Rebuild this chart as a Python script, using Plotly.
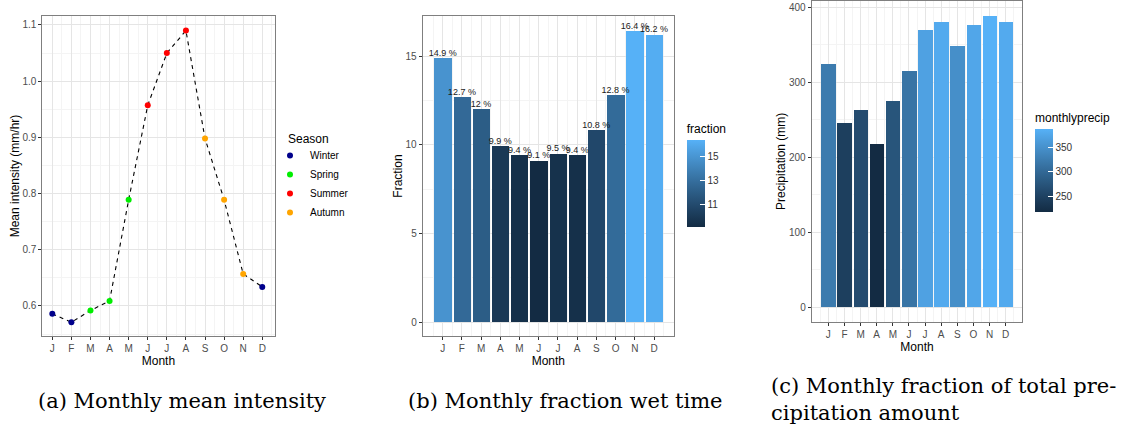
import numpy as np
import plotly.graph_objects as go

# ---- data -------------------------------------------------------------
months = ["J", "F", "M", "A", "M", "J", "J", "A", "S", "O", "N", "D"]
seasons = ["Winter", "Winter", "Spring", "Spring", "Spring", "Summer",
           "Summer", "Summer", "Autumn", "Autumn", "Autumn", "Winter"]
season_order = ["Winter", "Spring", "Summer", "Autumn"]
season_colors = ["#00008B", "#00EE00", "#FF0000", "#FFA500"]

mean_intensity = [0.586, 0.571, 0.592, 0.609, 0.789, 0.957,
                  1.050, 1.090, 0.898, 0.789, 0.657, 0.634]
wet_fraction = [14.9, 12.7, 12.0, 9.9, 9.4, 9.1, 9.5, 9.4, 10.8, 12.8, 16.4, 16.2]
monthly_precip = [324, 246, 263, 218, 275, 315, 370, 380, 348, 376, 388, 380]

captions = ["(a) Monthly mean intensity",
            "(b) Monthly fraction wet time",
            "(c) Monthly fraction of total pre-<br>cipitation amount"]

x_idx = list(range(len(months)))


# ---- ggplot-like continuous fill scale (interpolated in CIE Lab) ------
def _hex_to_lab(h):
    rgb = np.array([int(h[i:i + 2], 16) / 255 for i in (1, 3, 5)])
    lin = np.where(rgb <= 0.04045, rgb / 12.92, ((rgb + 0.055) / 1.055) ** 2.4)
    m = np.array([[0.4124, 0.3576, 0.1805],
                  [0.2126, 0.7152, 0.0722],
                  [0.0193, 0.1192, 0.9505]])
    xyz = m @ lin / np.array([0.95047, 1.0, 1.08883])
    d = 6 / 29
    f = np.where(xyz > d ** 3, np.cbrt(xyz), xyz / (3 * d * d) + 4 / 29)
    return np.array([116 * f[1] - 16, 500 * (f[0] - f[1]), 200 * (f[1] - f[2])])


def _lab_to_hex(lab):
    L, a, b = lab
    fy = (L + 16) / 116
    fx = fy + a / 500
    fz = fy - b / 200
    d = 6 / 29
    f = np.array([fx, fy, fz])
    xyz = np.where(f > d, f ** 3, 3 * d * d * (f - 4 / 29))
    xyz = xyz * np.array([0.95047, 1.0, 1.08883])
    minv = np.array([[3.2406, -1.5372, -0.4986],
                     [-0.9689, 1.8758, 0.0415],
                     [0.0557, -0.2040, 1.0570]])
    lin = np.clip(minv @ xyz, 0, 1)
    rgb = np.where(lin <= 0.0031308, 12.92 * lin, 1.055 * lin ** (1 / 2.4) - 0.055)
    rgb = np.clip(np.round(rgb * 255), 0, 255).astype(int)
    return "#{:02X}{:02X}{:02X}".format(*rgb)


lo, hi = _hex_to_lab("#132B43"), _hex_to_lab("#56B1F7")
gradient = [[t, _lab_to_hex(lo + (hi - lo) * t)] for t in np.linspace(0, 1, 11)]

# ---- styling ---------------------------------------------------------
FONT = "Liberation Sans"
TICK_FONT = dict(family=FONT, size=10, color="#4D4D4D")
TITLE_FONT = dict(family=FONT, size=12, color="#000000")
GRID = "#E5E5E5"
MINOR_GRID = "#F4F4F4"
BORDER = "#7F7F7F"


def x_axis(domain, rng, anchor):
    return dict(domain=domain, range=rng, anchor=anchor,
                tickmode="array", tickvals=x_idx, ticktext=months,
                ticks="outside", ticklen=3, tickcolor="#333333",
                tickfont=TICK_FONT, showgrid=True, gridcolor=GRID,
                minor=dict(tick0=0.5, dtick=1, showgrid=True, gridcolor=MINOR_GRID),
                showline=True, mirror=True, linecolor=BORDER, linewidth=1,
                zeroline=False,
                title=dict(text="Month", font=TITLE_FONT, standoff=0))


def y_axis(domain, rng, anchor, dtick, title):
    return dict(domain=domain, range=rng, anchor=anchor, dtick=dtick, tick0=0,
                ticks="outside", ticklen=3, tickcolor="#333333",
                tickfont=TICK_FONT, showgrid=True, gridcolor=GRID,
                minor=dict(dtick=dtick / 2, showgrid=True, gridcolor=MINOR_GRID),
                showline=True, mirror=True, linecolor=BORDER, linewidth=1,
                zeroline=False,
                title=dict(text=title, font=TITLE_FONT, standoff=0))


def colorbar(title, ticks, left_px, top_px, bottom_px):
    # the title sits inside the colorbar's length, so add room for it
    title_room = 18.5
    return dict(
        title=dict(text=title, side="top",
                   font=dict(family=FONT, size=12, color="#000")),
        tickvals=ticks, ticks="inside", ticklen=5, tickcolor="white",
        tickfont=dict(family=FONT, size=10, color="#333"),
        thickness=18, thicknessmode="pixels",
        len=(bottom_px - top_px) + title_room, lenmode="pixels",
        x=left_px / 1130, xanchor="left", xpad=0,
        y=1 - bottom_px / 430, yanchor="bottom", ypad=0,
        outlinewidth=0)


fig = go.Figure()

# (a) mean intensity: dashed line through season-coloured points
fig.add_trace(go.Scatter(
    x=x_idx, y=mean_intensity, mode="lines",
    line=dict(color="black", width=1.1, dash="4px,4px"),
    showlegend=False, xaxis="x", yaxis="y"))
for s, c in zip(season_order, season_colors):
    xs = [i for i, ss in zip(x_idx, seasons) if ss == s]
    ys = [mean_intensity[i] for i in xs]
    fig.add_trace(go.Scatter(
        x=xs, y=ys, mode="markers", name=s,
        marker=dict(color=c, size=6),
        xaxis="x", yaxis="y"))

# (b) fraction of wet time
fig.add_trace(go.Bar(
    x=x_idx, y=wet_fraction, width=0.9,
    marker=dict(color=wet_fraction, colorscale=gradient,
                cmin=min(wet_fraction), cmax=max(wet_fraction),
                line=dict(width=0),
                colorbar=colorbar("fraction", [11, 13, 15], 686.7, 139.3, 226.7)),
    showlegend=False, xaxis="x2", yaxis="y2"))
fig.add_trace(go.Scatter(
    x=x_idx, y=wet_fraction, mode="text",
    text=[f"{v:g} %" for v in wet_fraction], textposition="top center",
    textfont=dict(family=FONT, size=9, color="#1A1A1A"),
    cliponaxis=False, showlegend=False, xaxis="x2", yaxis="y2"))

# (c) monthly precipitation totals
fig.add_trace(go.Bar(
    x=x_idx, y=monthly_precip, width=0.9,
    marker=dict(color=monthly_precip, colorscale=gradient,
                cmin=min(monthly_precip), cmax=max(monthly_precip),
                line=dict(width=0),
                colorbar=colorbar("monthlyprecip", [250, 300, 350], 1035, 128.3, 211.7)),
    showlegend=False, xaxis="x3", yaxis="y3"))

# ---- axes ------------------------------------------------------------
fig.update_layout(
    xaxis=x_axis([42.3 / 1130, 274.5 / 1130], [-0.524, 11.64], "y"),
    yaxis=y_axis([1 - 336 / 430, 1 - 16 / 430], [0.5466, 1.116], "x", 0.1,
                 "Mean intensity (mm/hr)"),
    xaxis2=x_axis([422.7 / 1130, 674 / 1130], [-1.04, 12.04], "y2"),
    yaxis2=y_axis([1 - 336 / 430, 1 - 16 / 430], [-0.789, 17.256], "x2", 5,
                  "Fraction"),
    xaxis3=x_axis([811.7 / 1130, 1022.4 / 1130], [-1.03, 12.035], "y3"),
    yaxis3=y_axis([1 - 321.7 / 430, 1 - 1 / 430], [-19.2, 408.4], "x3", 100,
                  "Precipitation (mm)"),
)
fig.update_yaxes(tickformat=".1f", selector=dict(anchor="x"))

# ---- legend title and captions -------------------------------------------
fig.add_annotation(text="Season", x=285.5 / 1130, y=1 - 139 / 430,
                   xref="paper", yref="paper", showarrow=False,
                   xanchor="left", yanchor="middle",
                   font=dict(family=FONT, size=12, color="#000"))

cap_font = dict(family="DejaVu Serif", size=21, color="black")
fig.add_annotation(text=captions[0], x=181.5 / 1130, y=1 - 401 / 430,
                   xref="paper", yref="paper", showarrow=False,
                   xanchor="center", yanchor="middle", font=cap_font)
fig.add_annotation(text=captions[1], x=565 / 1130, y=1 - 401 / 430,
                   xref="paper", yref="paper", showarrow=False,
                   xanchor="center", yanchor="middle", font=cap_font)
fig.add_annotation(text=captions[2], x=769 / 1130, y=1 - 399.5 / 430,
                   xref="paper", yref="paper", showarrow=False,
                   xanchor="left", yanchor="middle", align="left", font=cap_font)

fig.update_layout(
    width=1130, height=430,
    margin=dict(l=0, r=0, t=0, b=0),
    paper_bgcolor="white", plot_bgcolor="white",
    bargap=0,
    legend=dict(font=dict(family=FONT, size=10, color="#000"),
                x=270 / 1130, y=1 - 141 / 430, xanchor="left", yanchor="top",
                bgcolor="rgba(0,0,0,0)", borderwidth=0, tracegroupgap=0),
)

fig.write_html("out.html")
